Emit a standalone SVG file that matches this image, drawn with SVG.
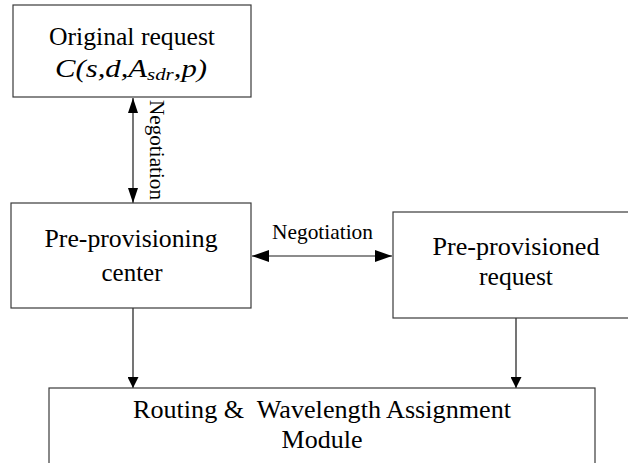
<svg xmlns="http://www.w3.org/2000/svg" width="628" height="463" viewBox="0 0 628 463">
  <style>
    .box { fill: #ffffff; stroke: #3a3a3a; stroke-width: 1.2; }
    .lbl { font-family: "Liberation Serif", "Times New Roman", serif; font-size: 25px; fill: #000000; text-anchor: middle; }
    .it { font-style: italic; }
    .small { font-family: "Liberation Serif", "Times New Roman", serif; font-size: 21px; fill: #000000; }
    .wire { stroke: #1a1a1a; stroke-width: 1.2; fill: none; }
  </style>
  <defs>
    <!-- long heads for the side-by-side negotiation link -->
    <marker id="headH" viewBox="0 0 17 12" refX="17" refY="6" markerWidth="17" markerHeight="12" markerUnits="userSpaceOnUse" orient="auto-start-reverse">
      <path d="M0,0 L17,6 L0,12 Z" fill="#000000"/>
    </marker>
    <!-- heads for the vertical negotiation link -->
    <marker id="headV" viewBox="0 0 15 10" refX="15" refY="5" markerWidth="15" markerHeight="10" markerUnits="userSpaceOnUse" orient="auto-start-reverse">
      <path d="M0,0 L15,5 L0,10 Z" fill="#000000"/>
    </marker>
    <!-- short heads for the flows into the RWA module -->
    <marker id="headD" viewBox="0 0 11 11" refX="11" refY="5.5" markerWidth="11" markerHeight="11" markerUnits="userSpaceOnUse" orient="auto">
      <path d="M0,0 L11,5.5 L0,11 Z" fill="#000000"/>
    </marker>
  </defs>
  <rect width="628" height="463" fill="#ffffff"/>

  <g id="connectors">
    <line class="wire" x1="133" y1="98" x2="133" y2="203" marker-start="url(#headV)" marker-end="url(#headV)"/>
    <text class="small" transform="translate(150,100) rotate(90)" textLength="100" lengthAdjust="spacingAndGlyphs">Negotiation</text>
    <line class="wire" x1="252" y1="256" x2="392" y2="256" marker-start="url(#headH)" marker-end="url(#headH)"/>
    <text class="small" x="272" y="239" textLength="101" lengthAdjust="spacingAndGlyphs">Negotiation</text>
    <line class="wire" x1="133" y1="308" x2="133" y2="388" marker-end="url(#headD)"/>
    <line class="wire" x1="516" y1="318" x2="516" y2="388" marker-end="url(#headD)"/>
  </g>

  <g id="original-request">
    <rect class="box" x="13" y="5" width="238" height="92"/>
    <text class="lbl" x="132" y="45" textLength="166" lengthAdjust="spacingAndGlyphs">Original request</text>
    <text class="lbl it" x="131" y="77" textLength="152" lengthAdjust="spacingAndGlyphs">C(s,d,A<tspan font-size="17" dy="3">sdr</tspan><tspan dy="-3">,p)</tspan></text>
  </g>

  <g id="pre-provisioning-center">
    <rect class="box" x="11" y="203" width="240" height="105"/>
    <text class="lbl" x="131" y="247" textLength="173" lengthAdjust="spacingAndGlyphs">Pre-provisioning</text>
    <text class="lbl" x="132" y="281" textLength="61" lengthAdjust="spacingAndGlyphs">center</text>
  </g>

  <g id="pre-provisioned-request">
    <rect class="box" x="393" y="212" width="240" height="106"/>
    <text class="lbl" x="516" y="255" textLength="167" lengthAdjust="spacingAndGlyphs">Pre-provisioned</text>
    <text class="lbl" x="516" y="285" textLength="74" lengthAdjust="spacingAndGlyphs">request</text>
  </g>

  <g id="rwa-module">
    <rect class="box" x="49" y="388" width="546" height="90"/>
    <text class="lbl" x="322" y="418" textLength="378" lengthAdjust="spacingAndGlyphs" xml:space="preserve">Routing &amp;  Wavelength Assignment</text>
    <text class="lbl" x="322" y="448" textLength="81" lengthAdjust="spacingAndGlyphs">Module</text>
  </g>
</svg>
